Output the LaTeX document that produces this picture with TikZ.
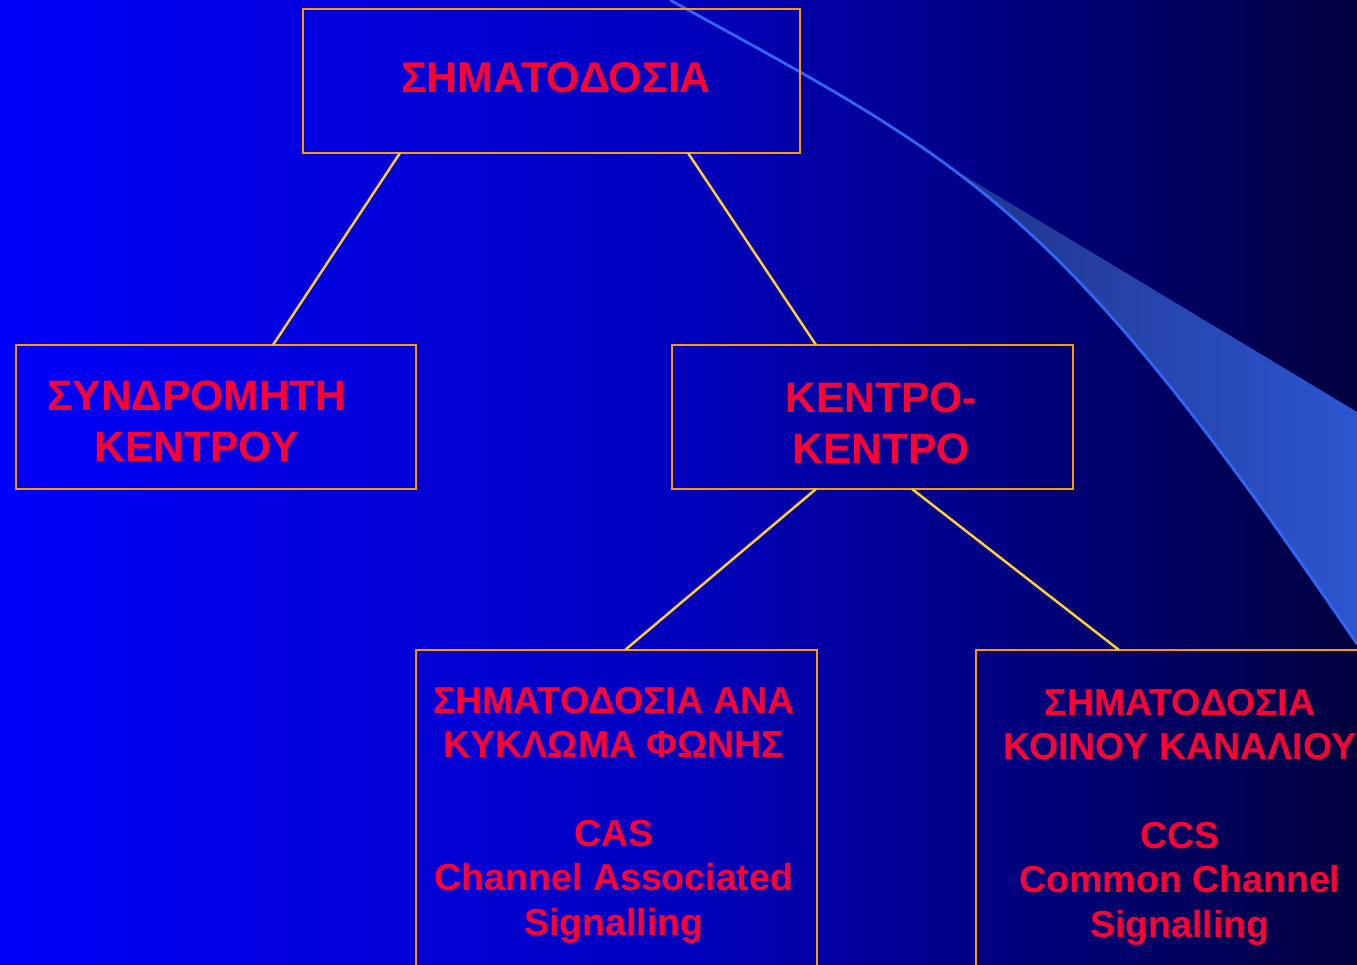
\documentclass[tikz,border=0pt]{standalone}
\usepackage{fontspec}
\setmainfont{Liberation Sans}
\usetikzlibrary{calc}
\definecolor{bgL}{RGB}{0,0,250}
\definecolor{bgM}{RGB}{0,0,190}
\definecolor{bgR}{RGB}{0,0,62}
\definecolor{txtred}{RGB}{255,0,51}
\definecolor{boxorange}{RGB}{255,153,0}
\definecolor{linkyellow}{RGB}{255,204,60}
\definecolor{swooshline}{RGB}{50,100,245}
\definecolor{swooshA}{RGB}{30,45,125}
\definecolor{swooshB}{RGB}{45,90,215}
\begin{document}
\begin{tikzpicture}[x=1pt,y=-1pt,
  box/.style={draw=boxorange, line width=2.8pt, rectangle, inner sep=0pt, outer sep=0pt, anchor=north west},
  lbl/.style={text=txtred, align=center, anchor=base, inner sep=0pt},
  bigfont/.style={font=\fontsize{42.5}{51}\selectfont\bfseries},
  smallfont/.style={font=\fontsize{37.5}{44.5}\selectfont\bfseries},
  link/.style={draw=linkyellow, line width=2.5pt}]
\clip (0,0) rectangle (1357,965);
\shade[left color=bgL, right color=bgR, middle color=bgM] (0,0) rectangle (1357,965);
% swoosh
\begin{scope}
\clip (670,0) .. controls (970,165) and (1057,203) .. (1357,644) -- (1400,644) -- (1400,0) -- cycle;
\shade[left color=swooshA, right color=swooshB] (880,125) -- (1357,412) -- (1400,412) -- (1400,700) -- (880,700) -- cycle;
\end{scope}
\draw[swooshline, line width=2.8pt] (670,0) .. controls (970,165) and (1057,203) .. (1357,644);
% boxes
\node[box, minimum width=497pt, minimum height=144pt] (topbox) at (303,9) {};
\node[box, minimum width=400pt, minimum height=144pt] (leftbox) at (16,345) {};
\node[box, minimum width=401pt, minimum height=144pt] (midbox) at (672,345) {};
\node[box, minimum width=401pt, minimum height=400pt] (blbox) at (416,650) {};
\node[box, minimum width=400pt, minimum height=400pt] (brbox) at (976,650) {};
% connectors
\draw[link] ([xshift=97pt]topbox.south west) -- ([xshift=257pt]leftbox.north west);
\draw[link] ([xshift=385pt]topbox.south west) -- ([xshift=144pt]midbox.north west);
\draw[link] ([xshift=144pt]midbox.south west) -- ([xshift=209pt]blbox.north west);
\draw[link] ([xshift=240pt]midbox.south west) -- ([xshift=143pt]brbox.north west);
% texts
\node[lbl, font=\fontsize{43}{50}\selectfont\bfseries] (toptext) at (556,93) {ΣΗΜΑΤΟΔΟΣΙΑ};
\node[lbl, bigfont] (lefttext) at (197,461) {ΣΥΝΔΡΟΜΗΤΗ\\ΚΕΝΤΡΟΥ};
\node[lbl, bigfont] (midtext) at (881,463) {ΚΕΝΤΡΟ-\\ΚΕΝΤΡΟ};
\node[lbl, smallfont] (bltext) at (614,935) {ΣΗΜΑΤΟΔΟΣΙΑ ΑΝΑ\\ΚΥΚΛΩΜΑ ΦΩΝΗΣ\\[44pt]CAS\\Channel Associated\\Signalling};
\node[lbl, smallfont] (brtext) at (1180,937) {ΣΗΜΑΤΟΔΟΣΙΑ\\ΚΟΙΝΟΥ ΚΑΝΑΛΙΟΥ\\[44pt]CCS\\Common Channel\\Signalling};
\end{tikzpicture}
\end{document}
